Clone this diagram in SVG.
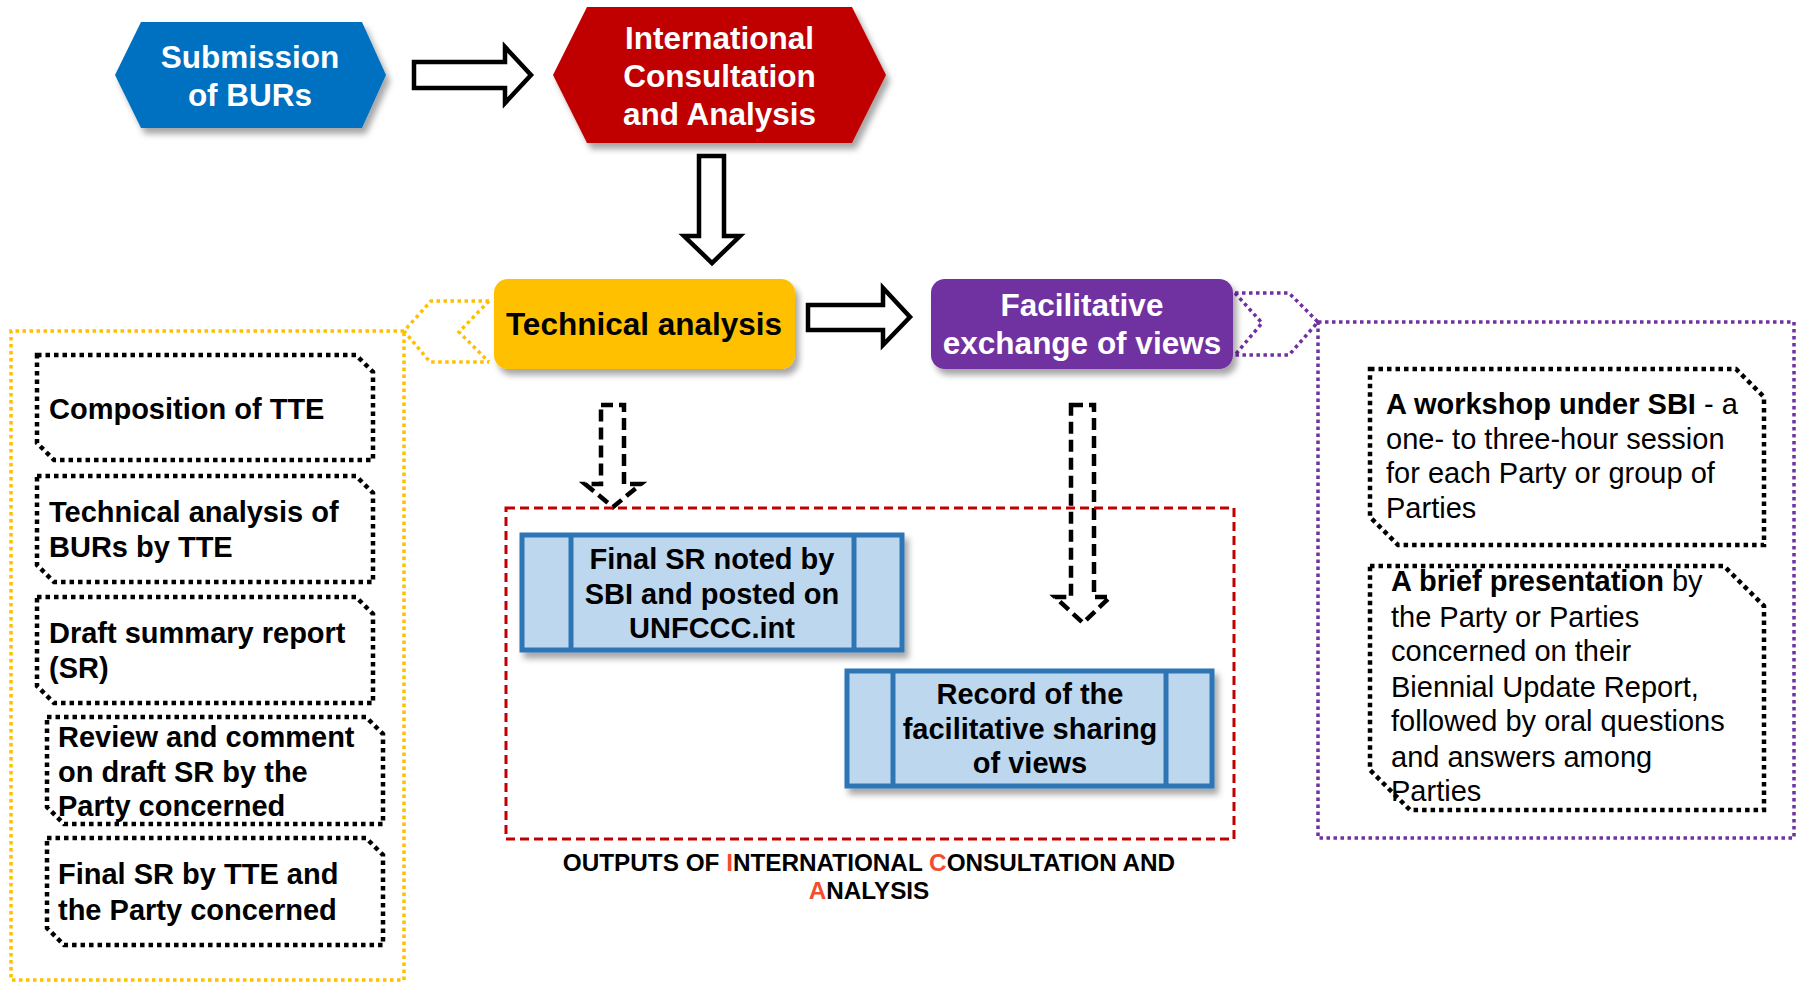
<svg xmlns="http://www.w3.org/2000/svg" width="1798" height="983" viewBox="0 0 1798 983">
<defs>
<filter id="sh" x="-10%" y="-10%" width="130%" height="150%"><feDropShadow dx="4" dy="6" stdDeviation="3" flood-color="#000" flood-opacity="0.35"/></filter>
</defs>
<style>
text{font-family:"Liberation Sans",Arial,sans-serif;fill:#000}
.b{font-weight:bold}
.w{fill:#fff}
.t31{font-size:31.5px}
.t29{font-size:29px}
.cap{font-size:24.3px;font-weight:bold}
.r{fill:#F24E2E}
.arrow{fill:#fff;stroke:#000;stroke-width:4.5;stroke-linejoin:miter}
.darrow{fill:none;stroke:#000;stroke-width:4.5;stroke-dasharray:12 6}
.snip{fill:#fff;stroke:#000;stroke-width:4.5;stroke-dasharray:4.5 4}
.yel{fill:none;stroke:#FFC000;stroke-width:3.5;stroke-dasharray:3.5 3.5}
.pur{fill:none;stroke:#7030A0;stroke-width:3.5;stroke-dasharray:3.5 3.5}
.out{fill:#BDD7EE;stroke:#2E75B6;stroke-width:5}
.div{stroke:#2E75B6;stroke-width:5}
</style>
<rect width="1798" height="983" fill="#fff"/>

<g id="connectors">
<polygon class="arrow" points="414,62 505,62 505,47 531,75 505,103 505,88 414,88"/>
<polygon class="arrow" points="699,156 724,156 724,236 740,236 712,263 684,236 699,236"/>
<polygon class="arrow" points="808,305 883,305 883,288 910,317 883,345 883,330 808,330"/>
<polygon class="darrow" points="601,405 624,405 624,484 641,484 613,507 585,484 601,484"/>
<polygon class="darrow" points="1071,405 1094,405 1094,597 1110,597 1083,623 1055,597 1071,597"/>
</g>

<g id="ta-callout">
<path class="yel" d="M489,301 H431 L404,331 L430,362 H489"/>
<path class="yel" d="M489,301 L459,332 L489,362"/>
<path class="yel" d="M404,331 H11 V980 H404 Z"/>
</g>

<g id="fev-callout">
<path class="pur" d="M1235,293 H1289 L1318,322 L1289,355 H1235"/>
<path class="pur" d="M1235,293 L1262,323 L1235,355"/>
<path class="pur" d="M1318,322 H1794 V838 H1318 Z"/>
</g>

<g id="submission">
<polygon points="115,75 141,22 362,22 386,75 362,128 141,128" fill="#0070C0" filter="url(#sh)"/>
<text class="b w t31" x="250" y="68" text-anchor="middle">Submission</text>
<text class="b w t31" x="250" y="106" text-anchor="middle">of BURs</text>
</g>

<g id="ica">
<polygon points="553,75 587,7 852,7 886,75 852,143 587,143" fill="#C00000" filter="url(#sh)"/>
<text class="b w t31" x="719.5" y="49" text-anchor="middle">International</text>
<text class="b w t31" x="719.5" y="87" text-anchor="middle">Consultation</text>
<text class="b w t31" x="719.5" y="125" text-anchor="middle">and Analysis</text>
</g>

<g id="technical-analysis">
<rect x="494" y="279" width="301" height="90" rx="14" fill="#FFC000" filter="url(#sh)"/>
<text class="b t31" x="644" y="335" text-anchor="middle">Technical analysis</text>
</g>

<g id="fev">
<rect x="931" y="279" width="302" height="90" rx="14" fill="#7030A0" filter="url(#sh)"/>
<text class="b w t31" x="1082" y="316" text-anchor="middle">Facilitative</text>
<text class="b w t31" x="1082" y="354" text-anchor="middle">exchange of views</text>
</g>

<g id="tte-composition">
<path class="snip" d="M37,355 H356 L373,372 V460 H54 L37,443 Z"/>
<text class="b t29" x="49" y="419">Composition of TTE</text>
</g>
<g id="tte-analysis">
<path class="snip" d="M37,476 H356 L373,493 V582 H54 L37,565 Z"/>
<text class="b t29" x="49" y="522">Technical analysis of</text>
<text class="b t29" x="49" y="557">BURs by TTE</text>
</g>
<g id="draft-sr">
<path class="snip" d="M37,597 H356 L373,614 V703 H54 L37,686 Z"/>
<text class="b t29" x="49" y="643">Draft summary report</text>
<text class="b t29" x="49" y="678">(SR)</text>
</g>
<g id="review">
<path class="snip" d="M47,717 H366 L383,734 V824 H64 L47,807 Z"/>
<text class="b t29" x="58" y="747">Review and comment</text>
<text class="b t29" x="58" y="782">on draft SR by the</text>
<text class="b t29" x="58" y="816">Party concerned</text>
</g>
<g id="final-sr">
<path class="snip" d="M47,838 H366 L383,855 V945 H64 L47,928 Z"/>
<text class="b t29" x="58" y="884">Final SR by TTE and</text>
<text class="b t29" x="58" y="920">the Party concerned</text>
</g>

<g id="outputs">
<rect x="506" y="508" width="728" height="331" fill="none" stroke="#C00000" stroke-width="3" stroke-dasharray="9 5"/>
<text class="cap" x="869" y="871" text-anchor="middle">OUTPUTS OF <tspan class="r">I</tspan>NTERNATIONAL <tspan class="r">C</tspan>ONSULTATION AND</text>
<text class="cap" x="869" y="899" text-anchor="middle"><tspan class="r">A</tspan>NALYSIS</text>
</g>

<g id="final-sr-noted">
<rect class="out" x="522" y="535" width="380" height="115" filter="url(#sh)"/>
<line class="div" x1="571" y1="535" x2="571" y2="650"/>
<line class="div" x1="854" y1="535" x2="854" y2="650"/>
<text class="b t29" x="712" y="569" text-anchor="middle">Final SR noted by</text>
<text class="b t29" x="712" y="604" text-anchor="middle">SBI and posted on</text>
<text class="b t29" x="712" y="638" text-anchor="middle">UNFCCC.int</text>
</g>

<g id="record">
<rect class="out" x="847" y="671" width="365" height="115" filter="url(#sh)"/>
<line class="div" x1="893" y1="671" x2="893" y2="786"/>
<line class="div" x1="1166" y1="671" x2="1166" y2="786"/>
<text class="b t29" x="1030" y="704" text-anchor="middle">Record of the</text>
<text class="b t29" x="1030" y="739" text-anchor="middle">facilitative sharing</text>
<text class="b t29" x="1030" y="773" text-anchor="middle">of views</text>
</g>

<g id="workshop">
<path class="snip" d="M1370,369 H1736 L1764,397 V545 H1398 L1370,517 Z"/>
<text class="t29" x="1386" y="414"><tspan class="b">A workshop under SBI</tspan> - a</text>
<text class="t29" x="1386" y="449">one- to three-hour session</text>
<text class="t29" x="1386" y="483">for each Party or group of</text>
<text class="t29" x="1386" y="518">Parties</text>
</g>

<g id="presentation">
<path class="snip" d="M1370,566 H1724 L1764,606 V810 H1410 L1370,770 Z"/>
<text class="t29" x="1391" y="591"><tspan class="b">A brief presentation</tspan> by</text>
<text class="t29" x="1391" y="627">the Party or Parties</text>
<text class="t29" x="1391" y="661">concerned on their</text>
<text class="t29" x="1391" y="697">Biennial Update Report,</text>
<text class="t29" x="1391" y="731">followed by oral questions</text>
<text class="t29" x="1391" y="767">and answers among</text>
<text class="t29" x="1391" y="801">Parties</text>
</g>
</svg>
